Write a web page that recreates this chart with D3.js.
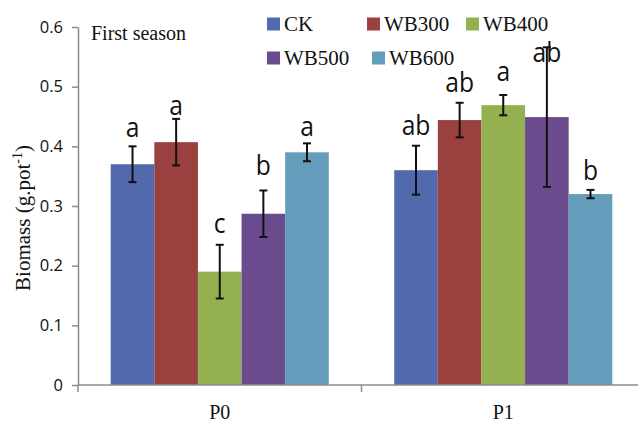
<!DOCTYPE html>
<html>
<head>
<meta charset="utf-8">
<script src="https://cdn.jsdelivr.net/npm/d3@7"></script>
<style>
  body { margin: 0; background: #fff; }
  .serif { font-family: "Liberation Serif", "Times New Roman", serif; fill: #111; }
  .sans { font-family: "Open Sans", "Liberation Sans", sans-serif; fill: #111; }
  .axis path, .axis line { stroke: #8c8c8c; stroke-width: 1.5px; }
</style>
</head>
<body>
<div id="chart"></div>
<script>
// data
const groups = ['P0', 'P1'];
const treatments = ['CK', 'WB300', 'WB400', 'WB500', 'WB600'];
const colors = ['#5369ae', '#9a4140', '#94b050', '#6a4c8e', '#649cbc'];
const biomassP0 = [0.370, 0.407, 0.190, 0.287, 0.390];
const biomassP1 = [0.360, 0.444, 0.469, 0.449, 0.320];
const errP0 = [0.030, 0.039, 0.045, 0.039, 0.015];
const errP1 = [0.041, 0.029, 0.017, 0.117, 0.007];
const lettersP0 = ['a', 'a', 'c', 'b', 'a'];
const lettersP1 = ['ab', 'ab', 'a', 'ab', 'b'];
// baseline of the letters, in axis units
const letterYP0 = [0.416, 0.452, 0.255, 0.352, 0.417];
const letterYP1 = [0.419, 0.491, 0.509, 0.541, 0.344];
const yTicks = [0, 0.1, 0.2, 0.3, 0.4, 0.5, 0.6];

const width = 638, height = 425;
const margin = {top: 27, left: 78, right: -7, bottom: 40};

const rows = [];
groups.forEach((g, gi) => {
    const vals = gi === 0 ? biomassP0 : biomassP1,
        errs = gi === 0 ? errP0 : errP1,
        lets = gi === 0 ? lettersP0 : lettersP1,
        ly = gi === 0 ? letterYP0 : letterYP1;
    treatments.forEach((t, ti) => rows.push({
        group: g, treatment: t, value: vals[ti], err: errs[ti], letter: lets[ti], letterY: ly[ti]
    }));
});

const svg = d3.select('#chart').append('svg')
    .attr('width', width).attr('height', height);

// x scale for groups, inner band for treatments
const x0 = d3.scaleBand()
    .domain(groups)
    .range([margin.left, width - margin.right])
    .padding(0);
const x1 = d3.scaleBand()
    .domain(treatments)
    .range([0, x0.bandwidth()])
    .paddingInner(0)
    .paddingOuter(0.75);

const y = d3.scaleLinear()
    .domain([0, 0.6])
    .range([height - margin.bottom, margin.top]);

const color = d3.scaleOrdinal().domain(treatments).range(colors);

// bars
svg.append('g').selectAll('rect')
    .data(rows).enter()
    .append('rect')
    .attr('x', d => x0(d.group) + x1(d.treatment))
    .attr('y', d => y(d.value))
    .attr('width', x1.bandwidth())
    .attr('height', d => y(0) - y(d.value))
    .attr('fill', d => color(d.treatment));

// error bars
const eb = svg.append('g').attr('stroke', '#111').attr('stroke-width', 2);
const cx = d => x0(d.group) + x1(d.treatment) + x1.bandwidth() / 2;
eb.selectAll('.v').data(rows).enter().append('line')
    .attr('x1', cx).attr('x2', cx)
    .attr('y1', d => y(d.value + d.err)).attr('y2', d => y(d.value - d.err));
['top', 'bot'].forEach(k => {
    eb.selectAll('.' + k).data(rows).enter().append('line')
        .attr('x1', d => cx(d) - 4).attr('x2', d => cx(d) + 4)
        .attr('y1', d => y(k === 'top' ? d.value + d.err : d.value - d.err))
        .attr('y2', d => y(k === 'top' ? d.value + d.err : d.value - d.err));
});

// significance letters
svg.append('g').selectAll('text')
    .data(rows).enter()
    .append('text')
    .classed('sans', true)
    .attr('x', cx)
    .attr('y', d => y(d.letterY))
    .attr('text-anchor', 'middle')
    .attr('font-size', 28)
    .attr('transform', d => `translate(${cx(d)},0) scale(0.88,1) translate(${-cx(d)},0)`)
    .text(d => d.letter);

// y axis
const yAxis = svg.append('g')
    .attr('class', 'axis')
    .attr('transform', `translate(${margin.left},0)`)
    .call(d3.axisLeft(y).tickValues(yTicks).tickSize(6).tickSizeOuter(0)
        .tickFormat(d => d === 0 ? '0' : d3.format('.1f')(d)));
yAxis.selectAll('text')
    .attr('class', 'sans')
    .attr('font-size', 16.5)
    .attr('x', -15);

// x axis
const xAxis = svg.append('g')
    .attr('class', 'axis')
    .attr('transform', `translate(0,${y(0)})`)
    .call(d3.axisBottom(x0).tickSize(0).tickSizeOuter(0));
xAxis.select('.domain').attr('d', `M${margin.left},0H${width - margin.right}`);
xAxis.selectAll('text')
    .attr('class', 'serif')
    .attr('font-size', 20)
    .attr('y', 20);
// category boundary ticks
xAxis.selectAll('.sep')
    .data(groups).enter()
    .append('line')
    .attr('x1', d => x0(d)).attr('x2', d => x0(d))
    .attr('y1', 0).attr('y2', 7);

// y axis title
const yl = svg.append('text')
    .classed('serif', true)
    .attr('font-size', 21)
    .attr('text-anchor', 'middle')
    .attr('transform', `translate(30,${(y(0) + y(0.6)) / 2 + 12}) rotate(-90)`);
yl.append('tspan').text('Biomass (g.pot');
yl.append('tspan').attr('font-size', 14).attr('dy', -8).text('-1');
yl.append('tspan').attr('dy', 8).text(')');

// panel title
svg.append('text')
    .classed('serif', true)
    .attr('x', 91)
    .attr('y', 40)
    .attr('font-size', 20)
    .text('First season');

// legend
const legendPos = [[267, 24], [367, 24], [466, 24], [267, 58], [372, 58]];
const legend = svg.append('g').selectAll('g')
    .data(treatments).enter()
    .append('g')
    .attr('transform', (d, i) => `translate(${legendPos[i][0]},${legendPos[i][1]})`);
legend.append('rect')
    .attr('x', 0).attr('y', -6.5)
    .attr('width', 13).attr('height', 13)
    .attr('fill', d => color(d));
legend.append('text')
    .classed('serif', true)
    .attr('x', 17)
    .attr('y', 7)
    .attr('font-size', 21)
    .text(d => d);
</script>
</body>
</html>
